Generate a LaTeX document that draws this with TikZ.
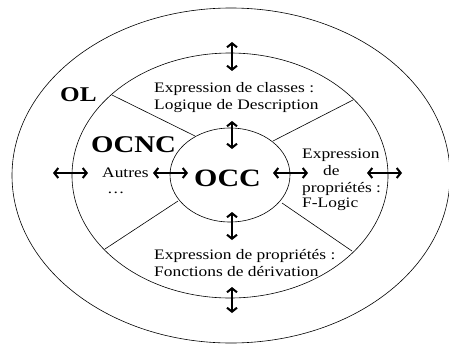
\documentclass[tikz,border=0pt]{standalone}
\usepackage{fontspec}
\setmainfont{Liberation Serif}[FakeStretch=1.2]
\usetikzlibrary{arrows.meta}
\begin{document}
\begin{tikzpicture}[x=1pt,y=-1pt,
  ring/.style={draw=black,line width=0.6pt},
  spoke/.style={draw=black,line width=0.6pt},
  dbl/.style={line width=2pt,{Straight Barb[length=4pt,width=10pt]}-{Straight Barb[length=4pt,width=10pt]}},
  txt/.style={anchor=base west,inner sep=0pt,font=\fontsize{14.5}{17}\selectfont},
  big/.style={anchor=base west,inner sep=0pt,font=\bfseries\fontsize{#1}{#1}\selectfont}]
\useasboundingbox (0,0) rectangle (449,345);
\begin{scope}
\clip (0,0) rectangle (449,345);
\draw[ring] (231,175.5) ellipse [x radius=219, y radius=167.5];
\end{scope}
\draw[ring] (230,175.5) ellipse [x radius=158, y radius=122.5];
\draw[ring] (230,175) ellipse [x radius=60, y radius=47];
% spokes
\draw[spoke] (112,95) -- (195,136);
\draw[spoke] (353,100) -- (273,141);
\draw[spoke] (105,249) -- (178,201);
\draw[spoke] (352,251) -- (282,203);
% arrows
\draw[dbl] (232,42) -- (232,71);
\draw[dbl] (232,121) -- (232,149);
\draw[dbl] (232,212) -- (232,240);
\draw[dbl] (232,287) -- (232,313);
\draw[dbl] (53,173) -- (88,173);
\draw[dbl] (153,173) -- (188,173);
\draw[dbl] (273,173) -- (308,173);
\draw[dbl] (367,173) -- (402,173);
% labels
\node[big=21] (ol) at (60,101) {OL};
\node[big=24] (ocnc) at (91,152) {OCNC};
\node[big=25] (occ) at (194,186) {OCC};
\node[txt] (t1) at (154,92) {Expression de classes :};
\node[txt] (t2) at (154,109) {Logique de Description};
\node[txt] (b1) at (154,259) {Expression de propriétés :};
\node[txt] (b2) at (154,276) {Fonctions de dérivation};
\node[txt] (r1) at (302,158) {Expression};
\node[txt] (r2) at (323,175) {de};
\node[txt] (r3) at (302,192) {propriétés :};
\node[txt] (r4) at (302,207) {F-Logic};
\node[txt] (l1) at (102,177) {Autres};
\node[txt] (l2) at (107,193) {\ldots};
\end{tikzpicture}
\end{document}
